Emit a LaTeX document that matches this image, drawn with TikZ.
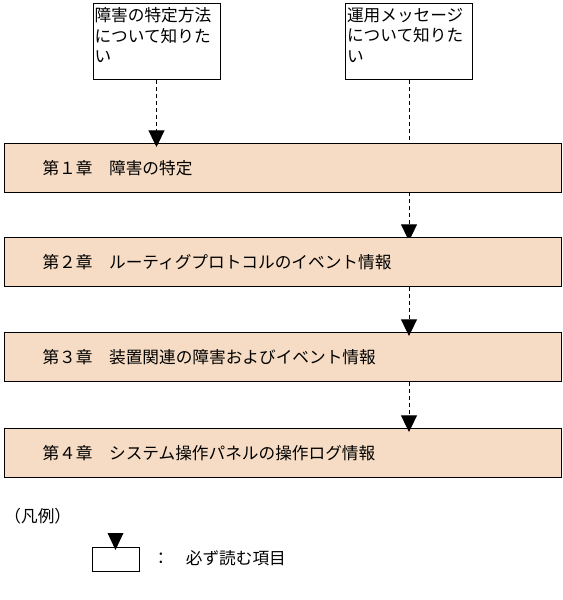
\documentclass[tikz,border=0pt]{standalone}
\usepackage{fontspec}
\setmainfont{Noto Sans CJK JP}
\usetikzlibrary{arrows.meta}

\definecolor{chapfill}{RGB}{246,220,196}
\tikzset{every picture/.style={line width=0.75pt}}
\tikzset{
  wantbox/.style={draw, fill=white, anchor=north west,
    minimum width=95.25pt, minimum height=57pt, inner sep=0pt},
  wanttext/.style={anchor=north west, align=left, text width=93pt,
    inner xsep=1.125pt, inner ysep=3pt,
    font=\fontsize{12.5}{15.5}\selectfont},
  chapbox/.style={draw, fill=chapfill, anchor=north west, align=left,
    text width=360.75pt, inner xsep=28.5pt, inner ysep=0pt,
    minimum height=36.75pt, font=\fontsize{12.5}{15}\selectfont},
  readarrow/.style={dash pattern=on 3pt off 2.25pt,
    -{Triangle[width=12pt,length=12.5pt]}, shorten >=-3pt},
}

\begin{document}
\begin{tikzpicture}[x=0.75pt,y=0.75pt,yscale=-1,xscale=1]
\useasboundingbox (0,0) rectangle (562,600);

% Text Node
\node[wantbox] (want1) at (92.5,3) {};
\node[wanttext] (want1text) at (want1.north west) {障害の特定方法\\について知りた\\い};
% Text Node
\node[wantbox] (want2) at (345,3) {};
\node[wanttext] (want2text) at (want2.north west) {運用メッセージ\\について知りた\\い};

% Connection
\draw[readarrow] (want2.south) -- (want2.south |- 0,237);

% Text Node
\node[chapbox] (chap1) at (4,143) {第１章　障害の特定};
% Text Node
\node[chapbox] (chap2) at (4,237) {第２章　ルーティグプロトコルのイベント情報};
% Text Node
\node[chapbox] (chap3) at (4,332) {第３章　装置関連の障害およびイベント情報};
% Text Node
\node[chapbox] (chap4) at (4,428) {第４章　システム操作パネルの操作ログ情報};

% Connection
\draw[readarrow] (want1.south) -- (want1.south |- chap1.north);
% Connection
\draw[readarrow] (chap2.south -| want2.south) -- (chap3.north -| want2.south);
% Connection
\draw[readarrow] (chap3.south -| want2.south) -- (chap4.north -| want2.south);

% Legend
\node[anchor=west, inner sep=0pt, font=\fontsize{12.5}{15}\selectfont] (legend) at (4,516) {（凡例）};
\node[draw, anchor=north west, minimum width=35.25pt, minimum height=18pt, inner sep=0pt] (legbox) at (92,547) {};
\coordinate (legtop) at (115.5,533);
\fill (legtop) -- ++(8,0) -- ++(-8,17) -- ++(-8,-17) -- cycle;
\node[anchor=west, inner sep=0pt, font=\fontsize{12.5}{15}\selectfont] (legtext) at (152,558) {：　必ず読む項目};

\end{tikzpicture}
\end{document}
